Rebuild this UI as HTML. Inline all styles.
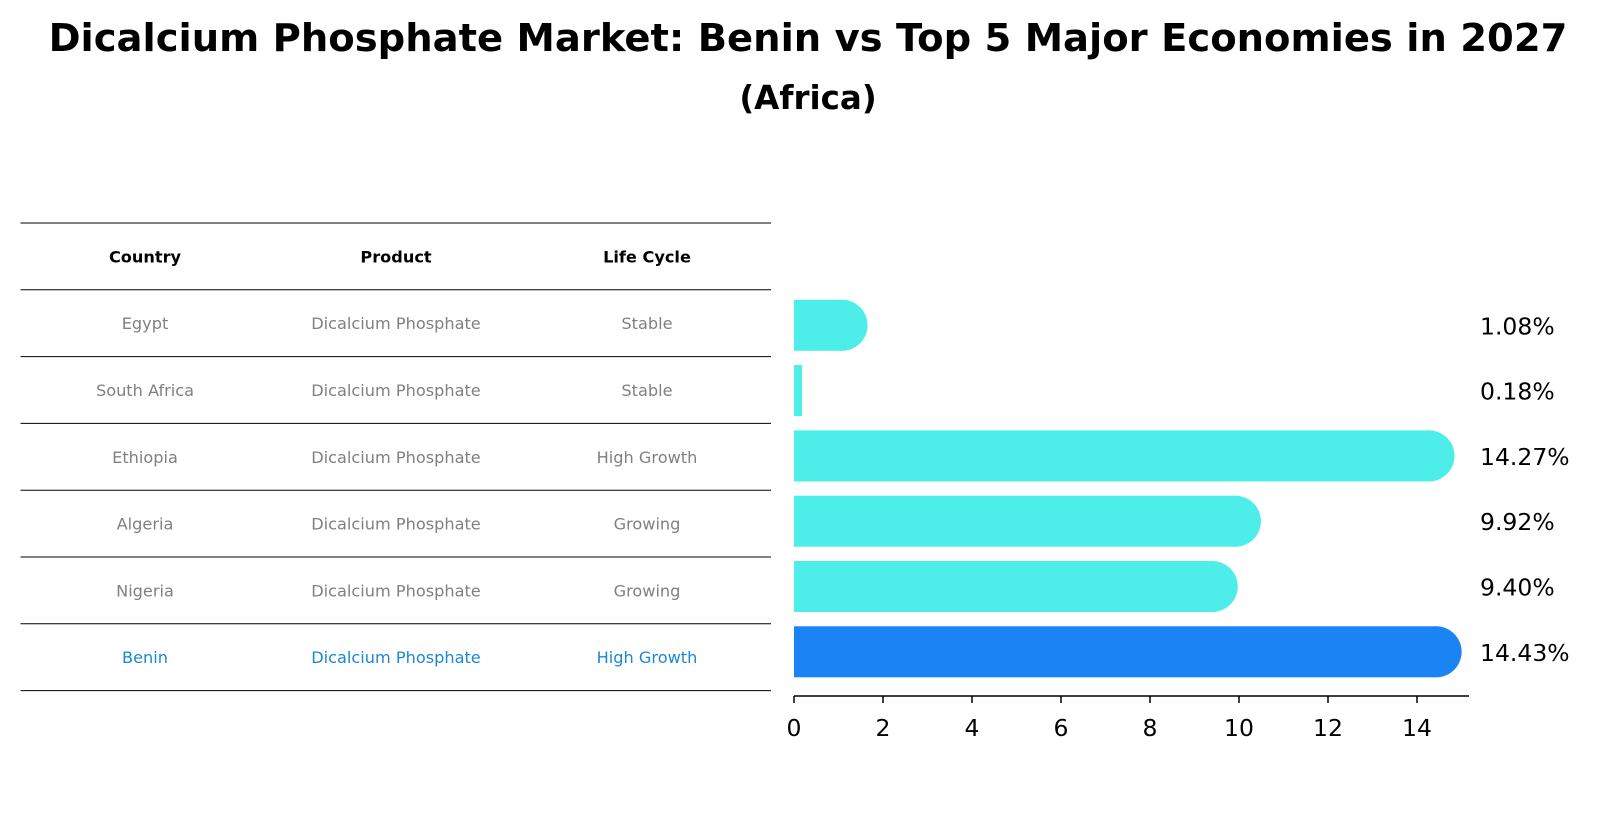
<!DOCTYPE html>
<html><head><meta charset="utf-8"><style>
body{margin:0;background:#fff;font-family:"DejaVu Sans","Liberation Sans",sans-serif}
</style></head><body>
<svg width="1604" height="823" viewBox="0 0 1604 823" xmlns="http://www.w3.org/2000/svg">
<text x="808" y="51" text-anchor="middle" font-size="38.5" font-weight="bold" font-family="DejaVu Sans, sans-serif">Dicalcium Phosphate Market: Benin vs Top 5 Major Economies in 2027</text>
<text x="808" y="109" text-anchor="middle" font-size="32.5" font-weight="bold" font-family="DejaVu Sans, sans-serif">(Africa)</text>
<g id="table"></g>
<g id="bars"></g>
</svg>
<script>
const countries=["Egypt","South Africa","Ethiopia","Algeria","Nigeria","Benin"];
const products=["Dicalcium Phosphate","Dicalcium Phosphate","Dicalcium Phosphate","Dicalcium Phosphate","Dicalcium Phosphate","Dicalcium Phosphate"];
const lifecycles=["Stable","Stable","High Growth","Growing","Growing","High Growth"];
const values=[1.08,0.18,14.27,9.92,9.40,14.43];
const ticks=[0,2,4,6,8,10,12,14];
const NS="http://www.w3.org/2000/svg";
function mk(t,a,p){const e=document.createElementNS(NS,t);for(const k in a)e.setAttribute(k,a[k]);p.appendChild(e);return e;}
const tb=document.getElementById('table'), bg=document.getElementById('bars');
const rowH=66.8, top0=223, colX=[145,396,647], tf=19;
for(let i=0;i<=7;i++){const y=top0+i*rowH;
 const l=mk('line',{x1:20.5,x2:771,y1:y,y2:y,stroke:'#000','stroke-width':1},tb);
 
 }
const heads=["Country","Product","Life Cycle"];
heads.forEach((h,j)=>{const t=mk('text',{x:colX[j],y:top0+rowH/2+6,'text-anchor':'middle','font-size':tf*0.85,'font-weight':'bold','font-family':'DejaVu Sans, sans-serif'},tb);t.textContent=h;
 
 });
const x=v=>794+v*44.5;
const yc=i=>325.3+i*65.3, bh=51, r=25.5;
countries.forEach((c,i)=>{
 const cy=top0+rowH*(i+1)+rowH/2+6;
 const col=c==="Benin"?'#1a87d8':'#808080';
 [c,products[i],lifecycles[i]].forEach((s,j)=>{const t=mk('text',{x:colX[j],y:cy,'text-anchor':'middle','font-size':tf*0.85,fill:col,'font-family':'DejaVu Sans, sans-serif'},tb);t.textContent=s;
  
  });
 const fill=c==="Benin"?'#1a84f5':'#4deeea';
 const w=x(values[i])-x(0);
 const g=mk('g',{},bg);
 
 
 mk('rect',{x:x(0),y:yc(i)-bh/2,width:w,height:bh,fill:fill},g);
 if(w>r) mk('circle',{cx:x(values[i]),cy:yc(i),r:r,fill:fill},g);
 const lt=mk('text',{x:1480,y:yc(i)+9,'font-size':23.5,'font-family':'DejaVu Sans, sans-serif'},bg);
 lt.textContent=values[i].toFixed(2)+'%';
 
 
});
const ax=mk('line',{x1:794,x2:1469,y1:696,y2:696,stroke:'#000','stroke-width':1.5},bg);


ticks.forEach(t=>{mk('line',{x1:x(t),x2:x(t),y1:696,y2:703,stroke:'#000','stroke-width':1.5},bg);
 const tt=mk('text',{x:x(t),y:736,'text-anchor':'middle','font-size':23.5,'font-family':'DejaVu Sans, sans-serif'},bg);tt.textContent=t;
 
 });
</script>
</body></html>
